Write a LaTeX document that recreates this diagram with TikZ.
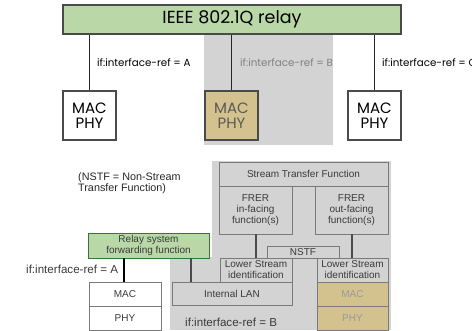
\documentclass[tikz,border=0pt]{standalone}
\usepackage{fontspec}
\setmainfont{Liberation Sans}
\newfontfamily\geo{Poppins}
\definecolor{bggray}{HTML}{D3D3D3}
\definecolor{relaygreen}{HTML}{B9D7A7}
\definecolor{tan}{HTML}{D4C28E}
\definecolor{edge}{HTML}{4A4A4A}
\definecolor{ledge}{HTML}{7A7A7A}
\definecolor{txt}{HTML}{3A3A3A}
\begin{document}
\begin{tikzpicture}[x=1pt,y=-1pt,
  topbox/.style={draw=edge, line width=1.2pt, inner sep=0pt, font=\geo\fontsize{15}{17}\selectfont, align=center, text=black},
  lowbox/.style={draw=ledge, line width=0.8pt, inner sep=0pt, font=\fontsize{10}{11}\selectfont, align=center, text=txt},
  topwire/.style={line width=1.3pt, draw=black!85},
  lowwire/.style={line width=1.8pt, draw=edge},
  toplabel/.style={anchor=west, inner sep=0pt, font=\geo\fontsize{10.3}{12}\selectfont},
  lowlabel/.style={anchor=west, inner sep=0pt, font=\fontsize{11.6}{12}\selectfont, text=txt}
]
\useasboundingbox (0,0) rectangle (472,330);
% backgrounds
\fill[bggray] (204,34) rectangle (333,145);
\fill[bggray] (212,161) rectangle (391,330);
\fill[bggray] (170,257) rectangle (212,330);

% ---------- top part ----------
\node[topbox, fill=relaygreen, minimum width=338pt, minimum height=29pt,
      font=\geo\fontsize{17.5}{19}\selectfont] (relay) at (232,19.5) {IEEE 802.1Q relay};
\node[topbox, fill=white, minimum width=53pt, minimum height=49pt] (macA) at (89.5,115.5) {MAC\\[-2pt]PHY};
\node[topbox, fill=tan, minimum width=53pt, minimum height=49pt, text=black!65] (macB) at (231.5,115.5) {MAC\\[-2pt]PHY};
\node[topbox, fill=white, minimum width=53pt, minimum height=49pt] (macC) at (374.5,115.5) {MAC\\[-2pt]PHY};
\draw[topwire] (macA.north |- relay.south) -- (macA.north);
\draw[topwire] (macB.north |- relay.south) -- (macB.north);
\draw[topwire] (macC.north |- relay.south) -- (macC.north);
\node[toplabel] (labA) at (97,63) {if:interface-ref = A};
\node[toplabel, text=black!50] (labB) at (240,63) {if:interface-ref = B};
\node[toplabel] (labC) at (382,63) {if:interface-ref = C};

% ---------- bottom part ----------
\node[lowbox, minimum width=169pt, minimum height=24pt] (stf) at (303.5,174) {Stream Transfer Function};
\node[lowbox, minimum width=73pt, minimum height=48pt] (frin) at (255.5,210) {FRER\\in-facing\\function(s)};
\node[lowbox, minimum width=73pt, minimum height=48pt] (frout) at (351.5,210) {FRER\\out-facing\\function(s)};
\node[lowbox, minimum width=72pt, minimum height=12pt] (nstf) at (303,252) {NSTF};
\node[lowbox, minimum width=72pt, minimum height=24pt] (lsil) at (256,270) {Lower Stream\\identification};
\node[lowbox, minimum width=71pt, minimum height=24pt] (lsir) at (352.5,270) {Lower Stream\\identification};
\node[lowbox, minimum width=120pt, minimum height=23pt] (ilan) at (232,293.5) {Internal LAN};
\node[lowbox, fill=tan, minimum width=71pt, minimum height=24pt, text=black!40] (macT) at (352.5,294) {MAC};
\node[lowbox, fill=tan, minimum width=71pt, minimum height=24pt, text=black!40] (phyT) at (352.5,318) {PHY};
\node[lowbox, fill=relaygreen, draw=black!55!green!60!gray, minimum width=121pt, minimum height=25pt] (rsff) at (148.5,245.5) {Relay system\\forwarding function};
\node[lowbox, fill=white, minimum width=72pt, minimum height=24pt] (macL) at (125,294) {MAC};
\node[lowbox, fill=white, minimum width=72pt, minimum height=24pt] (phyL) at (125,318) {PHY};

\coordinate (ilanTop) at (191,282);
\draw[lowwire] (frin.south -| lsil.north) -- (lsil.north);
\draw[lowwire] (frout.south -| 352,0) -- (lsir.north -| 352,0);
\draw[lowwire] (rsff.south -| ilanTop) -- (ilanTop);
\draw[lowwire, draw=black] (rsff.south -| 124,0) -- (macL.north -| 124,0);

\node[lowlabel] (labAl) at (26,269) {if:interface-ref = A};
\node[lowlabel] (labBl) at (185,322) {if:interface-ref = B};
\node[lowlabel, align=left, font=\fontsize{10.8}{10.8}\selectfont, text=black!85] (note) at (78,183.5) {(NSTF = Non-Stream\\Transfer Function)};
\end{tikzpicture}
\end{document}
